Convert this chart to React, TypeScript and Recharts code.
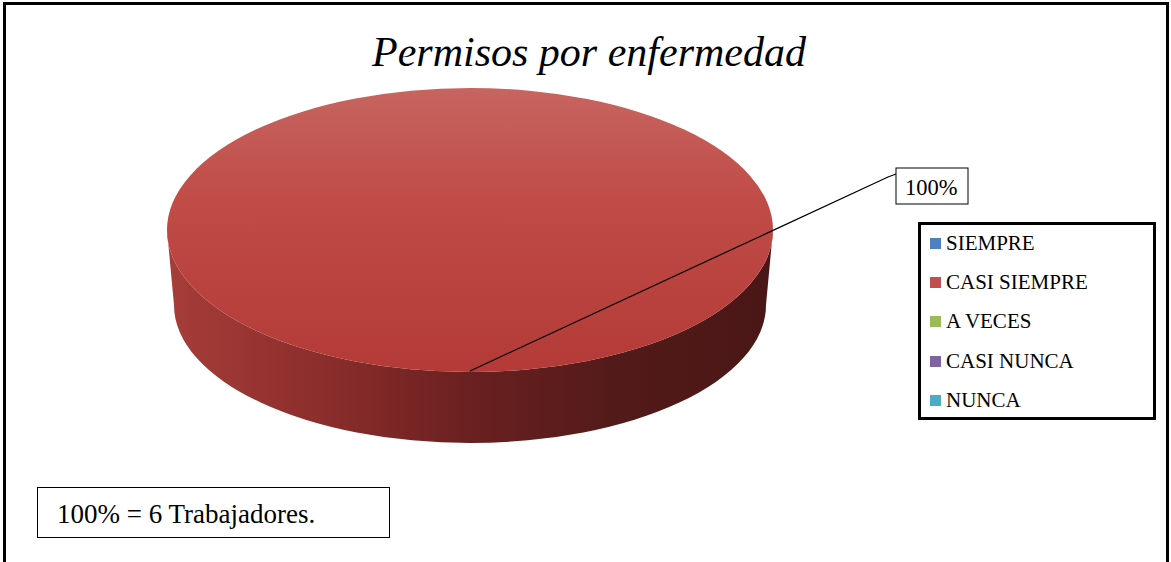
import React from 'react';
import { PieChart, Pie, Legend } from 'recharts';

const categories = ['SIEMPRE', 'CASI SIEMPRE', 'A VECES', 'CASI NUNCA', 'NUNCA'];
const values = [0, 6, 0, 0, 0];
const colors = ['#4F81BD', '#C0504D', '#9BBB59', '#8064A2', '#4BACC6'];
const title = 'Permisos por enfermedad';
const totalNote = '100% = 6 Trabajadores.';

const data = categories.map((name, i) => ({ name, value: values[i], fill: colors[i] }));

const FONT = '"Liberation Serif", "Times New Roman", serif';
const TILT = 142 / 303;
const DEPTH = 75;
const RAD = Math.PI / 180;

const Slice3D = (props: any) => {
  const { cx, cy, outerRadius, startAngle, endAngle, value } = props;
  if (!value || Math.abs(endAngle - startAngle) < 0.001) return <g />;
  const rx = outerRadius;
  const ry = outerRadius * TILT;
  const rx2 = rx - 7;
  const ry2 = ry - 4;
  const by = cy + DEPTH;
  const side = `M ${cx - rx},${cy} L ${cx - rx2},${by} A ${rx2} ${ry2} 0 0 0 ${cx + rx2},${by} L ${cx + rx},${cy} A ${rx} ${ry} 0 0 1 ${cx - rx},${cy} Z`;
  return (
    <g>
      <defs>
        <linearGradient id="sideGrad" x1="0" y1="0" x2="1" y2="0">
          <stop offset="0%" stopColor="#A63D39" />
          <stop offset="25%" stopColor="#8C2E2C" />
          <stop offset="50%" stopColor="#6A2020" />
          <stop offset="75%" stopColor="#521A19" />
          <stop offset="100%" stopColor="#4A1716" />
        </linearGradient>
        <linearGradient id="topGrad" x1="0" y1="0" x2="0" y2="1">
          <stop offset="0%" stopColor="#C76560" />
          <stop offset="40%" stopColor="#C04B47" />
          <stop offset="100%" stopColor="#B33A37" />
        </linearGradient>
      </defs>
      <path d={side} fill="url(#sideGrad)" />
      <ellipse cx={cx} cy={cy} rx={rx} ry={ry} fill="url(#topGrad)" />
    </g>
  );
};

const renderLabel = (props: any) => {
  const { cx, cy, midAngle, outerRadius, percent, value } = props;
  if (!value) return null;
  const ax = cx + outerRadius * Math.cos(-midAngle * RAD);
  const ay = cy + outerRadius * TILT * Math.sin(-midAngle * RAD);
  const bx = ax + 426;
  const by = ay - 204;
  return (
    <g>
      <polyline
        points={`${ax},${ay - 1} ${bx - 8},${by + 9} ${bx},${by + 6}`}
        fill="none"
        stroke="#000"
        strokeWidth={1.2}
      />
      <rect x={bx} y={by} width={72} height={36} fill="#fff" stroke="#000" strokeWidth={1} />
      <text x={bx + 9} y={by + 27} fontFamily={FONT} fontSize={22.5} fill="#000">
        {`${Math.round(percent * 100)}%`}
      </text>
    </g>
  );
};

const LegendBox = () => (
  <div
    style={{
      position: 'relative',
      width: 238,
      height: 198,
      border: '3px solid #000',
      boxSizing: 'border-box',
      background: '#fff',
      fontFamily: FONT,
    }}
  >
    {categories.map((c, i) => (
      <div
        key={c}
        style={{
          position: 'absolute',
          left: 9,
          top: -1 + i * 39.2,
          height: 39,
          display: 'flex',
          alignItems: 'center',
          fontSize: 21,
          color: '#000',
          whiteSpace: 'nowrap',
        }}
      >
        <span
          style={{
            display: 'inline-block',
            width: 11,
            height: 11,
            background: colors[i],
            marginRight: 5,
          }}
        />
        {c}
      </div>
    ))}
  </div>
);

export default function App() {
  const pieProps: any = {
    shape: Slice3D,
    inactiveShape: Slice3D,
    activeShape: Slice3D,
  };
  return (
    <div
      style={{
        position: 'absolute',
        left: 0,
        top: 0,
        width: 1171,
        height: 562,
        overflow: 'hidden',
        background: '#fff',
      }}
    >
      <div
        style={{
          position: 'absolute',
          left: 3,
          top: 2,
          width: 1166,
          height: 640,
          border: '3px solid #000',
          boxSizing: 'border-box',
        }}
      />
      <div style={{ position: 'absolute', left: 0, top: 0 }}>
        <PieChart width={1171} height={562} margin={{ top: 0, right: 0, bottom: 0, left: 0 }}>
          <Pie
            data={data}
            dataKey="value"
            nameKey="name"
            cx={470}
            cy={230}
            outerRadius={303}
            startAngle={90}
            endAngle={-270}
            stroke="none"
            isAnimationActive={false}
            label={renderLabel}
            labelLine={false}
            {...pieProps}
          />
          <Legend
            layout="vertical"
            align="right"
            verticalAlign="top"
            content={() => <LegendBox />}
            wrapperStyle={{ position: 'absolute', left: 918, top: 222, width: 238, height: 198, right: 'auto', bottom: 'auto' }}
          />
        </PieChart>
      </div>
      <div
        style={{
          position: 'absolute',
          left: 0,
          width: 1178,
          top: 31,
          textAlign: 'center',
          fontFamily: FONT,
          fontStyle: 'italic',
          fontSize: 42,
          lineHeight: '42px',
          color: '#000',
          whiteSpace: 'nowrap',
        }}
      >
        {title}
      </div>
      <div
        style={{
          position: 'absolute',
          left: 37,
          top: 487,
          width: 353,
          height: 51,
          border: '1.5px solid #000',
          boxSizing: 'border-box',
          fontFamily: FONT,
          fontSize: 27,
          lineHeight: '52px',
          paddingLeft: 19,
          color: '#000',
          whiteSpace: 'nowrap',
          background: '#fff',
        }}
      >
        {totalNote}
      </div>
    </div>
  );
}
